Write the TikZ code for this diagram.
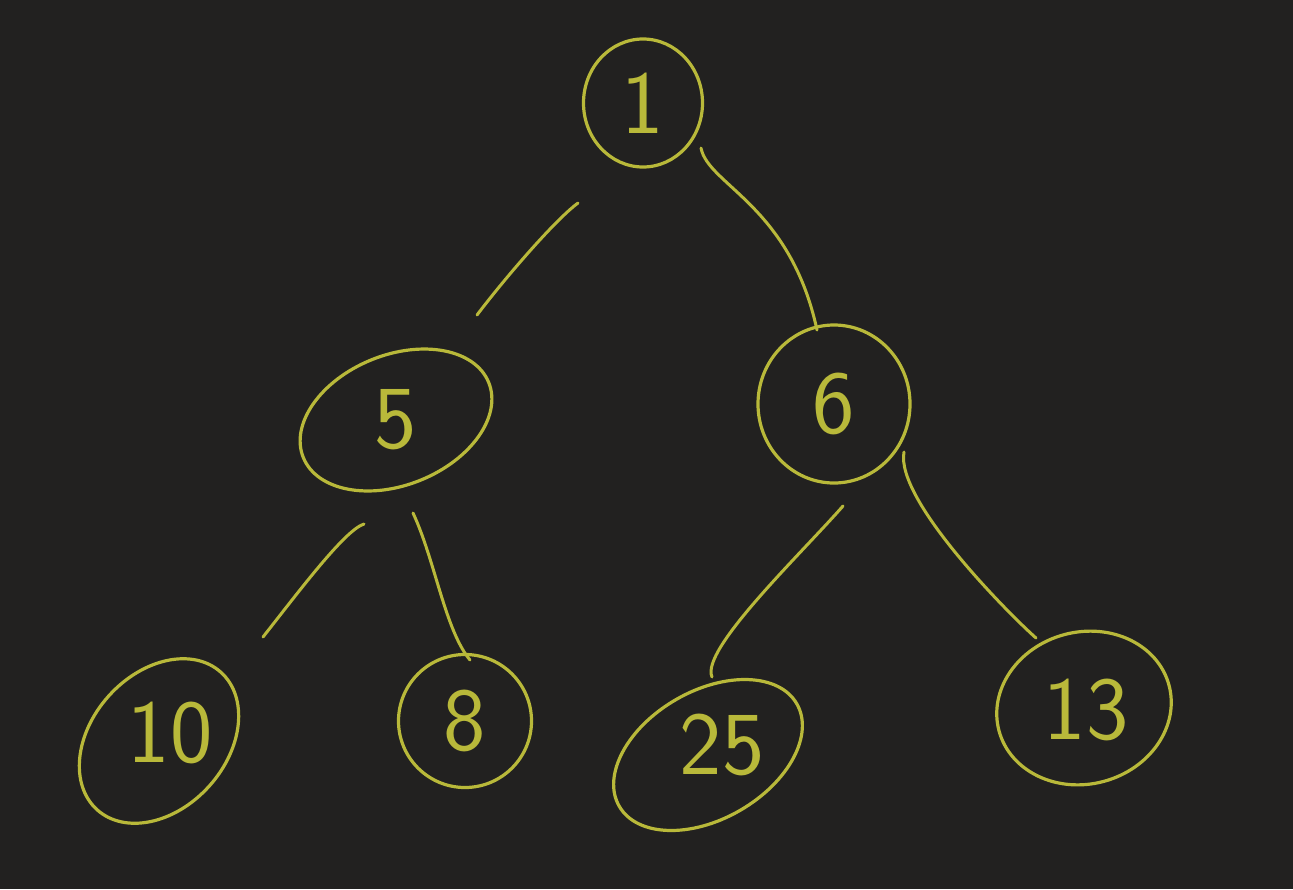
\documentclass[tikz,border=0pt]{standalone}
\usepackage{tikz}
\usetikzlibrary{shapes.geometric}
\usepackage{xcolor}
\definecolor{board}{RGB}{34,33,32}
\definecolor{chalk}{RGB}{185,185,58}

\begin{document}
\begin{tikzpicture}[x=1pt,y=1pt,yscale=-1,xscale=1,
  ring/.style={draw=chalk, line width=3.2pt, ellipse, inner sep=0pt},
  digit/.style={text=chalk, inner sep=0.75pt, font=\sffamily\fontsize{90}{90}\selectfont},
  edge/.style={draw=chalk, line width=3pt, line cap=round}]
%set diagram size 1293 x 889
\fill[board] (0,0) rectangle (1293,889);
\useasboundingbox (0,0) rectangle (1293,889);

%Shape: Ellipse [id:root] 
\node[ring, minimum width=119, minimum height=128] (n1) at (643,103) {};
%Shape: Ellipse [id:left] 
\node[ring, minimum width=200, minimum height=130, rotate=22] (n5) at (396,420) {};
%Shape: Ellipse [id:right] 
\node[ring, minimum width=152, minimum height=158] (n6) at (834,404) {};
%Shape: Ellipse [id:leftleft] 
\node[ring, minimum width=185, minimum height=135, rotate=48] (n10) at (159,741) {};
%Shape: Ellipse [id:leftright] 
\node[ring, minimum width=133, minimum height=133] (n8) at (465,721) {};
%Shape: Ellipse [id:rightleft] 
\node[ring, minimum width=205, minimum height=128, rotate=30] (n25) at (708,755) {};
%Shape: Ellipse [id:rightright] 
\node[ring, minimum width=176, minimum height=152, rotate=15] (n13) at (1084,708) {};

%Curve Lines
\coordinate (e1a) at (578,203);
\coordinate (e1b) at (477,315);
\draw[edge] (e1a) .. controls (555,220) and (505,278) .. (e1b);
\coordinate (e2a) at (701,148);
\coordinate (e2b) at (817,330);
\draw[edge] (e2a) .. controls (708,185) and (790,205) .. (e2b);
\coordinate (e3a) at (364,524);
\coordinate (e3b) at (263,637);
\draw[edge] (e3a) .. controls (345,530) and (300,590) .. (e3b);
\coordinate (e4a) at (413,513);
\coordinate (e4b) at (470,660);
\draw[edge] (e4a) .. controls (435,560) and (445,630) .. (e4b);
\coordinate (e5a) at (843,506);
\coordinate (e5b) at (712,677);
\draw[edge] (e5a) .. controls (800,555) and (700,650) .. (e5b);
\coordinate (e6a) at (904,452);
\coordinate (e6b) at (1036,638);
\draw[edge] (e6a) .. controls (895,500) and (1010,615) .. (e6b);

% Text Node
\node[digit] (t1) at (n1) {1};
% Text Node
\node[digit] (t5) at (n5) {5};
% Text Node
\node[digit] (t6) at (n6) {6};
% Text Node
\node[digit] (t10) at (170,733) {10};
% Text Node
\node[digit] (t8) at (n8) {8};
% Text Node
\node[digit] (t25) at (722,745) {25};
% Text Node
\node[digit] (t13) at (1086,710) {13};

\end{tikzpicture}
\end{document}
